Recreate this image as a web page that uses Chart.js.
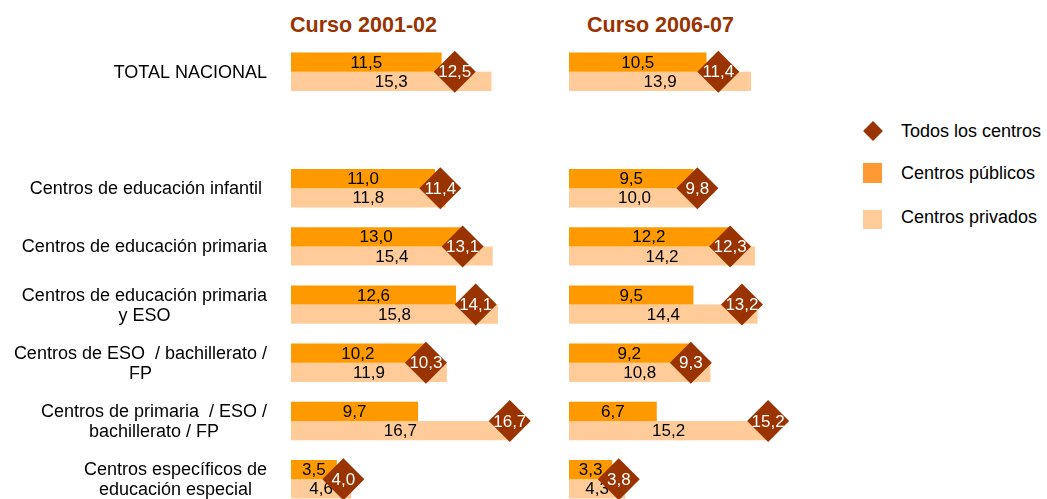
<!DOCTYPE html>
<html>
<head>
<meta charset="utf-8">
<script src="https://cdn.jsdelivr.net/npm/chart.js@4.4.0/dist/chart.umd.min.js"></script>
<style>
  html, body { margin: 0; padding: 0; background: #fff; overflow: hidden; }
  body { width: 1047px; height: 499px; position: relative; font-family: "Liberation Sans", Arial, sans-serif; }
  canvas { position: absolute; top: 0; }
  #chartA { left: 0; }
  #chartB { left: 569px; }
  .title { position: absolute; top: 13px; font-weight: bold; font-size: 21.5px; color: #993300; white-space: nowrap; }
  .legend-item { position: absolute; left: 901px; font-size: 18px; line-height: 20px; color: #000; white-space: nowrap; }
  .swatch { position: absolute; }
</style>
</head>
<body>
<div class="title" style="left:290px">Curso 2001-02</div>
<div class="title" style="left:587px">Curso 2006-07</div>

<div class="swatch" style="left:866px;top:124px;width:14px;height:14px;background:#993300;transform:rotate(45deg)"></div>
<div class="legend-item" style="top:121px">Todos los centros</div>
<div class="swatch" style="left:863px;top:163px;width:19px;height:20px;background:#FF9933"></div>
<div class="legend-item" style="top:163px">Centros públicos</div>
<div class="swatch" style="left:863px;top:210px;width:19px;height:19px;background:#FFCC99"></div>
<div class="legend-item" style="top:207px">Centros privados</div>

<canvas id="chartA" width="553" height="520"></canvas>
<canvas id="chartB" width="262" height="520"></canvas>

<script>
// categories (second row is an empty gap)
const categories = [
  ['TOTAL NACIONAL'],
  [''],
  ['Centros de educación infantil '],
  ['Centros de educación primaria'],
  ['Centros de educación primaria', 'y ESO'],
  ['Centros de ESO  / bachillerato /', 'FP'],
  ['Centros de primaria  / ESO /', 'bachillerato / FP'],
  ['Centros específicos de', 'educación especial']
];

// Curso 2001-02
const publicos0102 = [11.5, null, 11.0, 13.0, 12.6, 10.2, 9.7, 3.5];
const privados0102 = [15.3, null, 11.8, 15.4, 15.8, 11.9, 16.7, 4.6];
const todos0102    = [12.5, null, 11.4, 13.1, 14.1, 10.3, 16.7, 4.0];

// Curso 2006-07
const publicos0607 = [10.5, null, 9.5, 12.2, 9.5, 9.2, 6.7, 3.3];
const privados0607 = [13.9, null, 10.0, 14.2, 14.4, 10.8, 15.2, 4.3];
const todos0607    = [11.4, null, 9.8, 12.3, 13.2, 9.3, 15.2, 3.8];

const FONT = '"Liberation Sans", Arial, sans-serif';
const fmt = v => v.toFixed(1).replace('.', ',');

// value labels: bars get black text, diamonds white text, drawn right after each dataset
const valueLabels = {
  id: 'valueLabels',
  afterDatasetDraw(chart, args) {
    const ctx = chart.ctx;
    const ds = chart.data.datasets[args.index];
    ctx.save();
    ctx.font = '17px ' + FONT;
    ctx.textAlign = 'center';
    ctx.textBaseline = 'middle';
    ctx.fillStyle = ds.type === 'line' ? '#fff' : '#000';
    args.meta.data.forEach((el, i) => {
      const v = ds.data[i];
      if (v == null) return;
      const x = ds.type === 'line' ? el.x : (el.x + el.base) / 2;
      ctx.fillText(fmt(v), x, el.y + 1);
    });
    ctx.restore();
  }
};

// category labels on the left: right-aligned block, lines centered inside it
const categoryLabels = {
  id: 'categoryLabels',
  afterDraw(chart, args, opts) {
    if (!opts.show) return;
    const ctx = chart.ctx;
    const yScale = chart.scales.y;
    const right = chart.chartArea.left - 24;
    ctx.save();
    ctx.font = '18px ' + FONT;
    ctx.fillStyle = '#000';
    ctx.textAlign = 'center';
    ctx.textBaseline = 'middle';
    categories.forEach((lines, i) => {
      const w = Math.max(...lines.map(l => ctx.measureText(l).width));
      const cx = right - w / 2;
      const cy = yScale.getPixelForValue(i);
      const lh = 20;
      lines.forEach((l, k) => {
        ctx.fillText(l, cx, cy + (k - (lines.length - 1) / 2) * lh + 1);
      });
    });
    ctx.restore();
  }
};

function makeChart(id, publicos, privados, todos, padLeft, showLabels) {
  return new Chart(document.getElementById(id), {
    type: 'bar',
    data: {
      labels: categories.map(c => c.join(' ')),
      datasets: [
        {
          type: 'line',
          label: 'Todos los centros',
          data: todos,
          showLine: false,
          pointStyle: 'rectRot',
          pointRadius: 21,
          pointHoverRadius: 21,
          pointBackgroundColor: '#993300',
          pointBorderColor: '#993300',
          pointBorderWidth: 0,
          clip: false,
          order: 0
        },
        {
          label: 'Centros públicos',
          data: publicos,
          backgroundColor: '#FF9900',
          categoryPercentage: 0.66,
          barPercentage: 1.0,
          order: 1
        },
        {
          label: 'Centros privados',
          data: privados,
          backgroundColor: '#FFCC99',
          categoryPercentage: 0.66,
          barPercentage: 1.0,
          order: 2
        }
      ]
    },
    options: {
      indexAxis: 'y',
      responsive: false,
      animation: false,
      layout: { autoPadding: false, padding: { left: padLeft, right: 0, top: 42.7, bottom: 11.7 } },
      scales: {
        x: { display: false, min: 0, max: 20 },
        y: { display: false, offset: true }
      },
      plugins: {
        legend: { display: false },
        tooltip: { enabled: false },
        categoryLabels: { show: showLabels }
      }
    },
    plugins: [valueLabels, categoryLabels]
  });
}

makeChart('chartA', publicos0102, privados0102, todos0102, 291, true);
makeChart('chartB', publicos0607, privados0607, todos0607, 0, false);
</script>
</body>
</html>
